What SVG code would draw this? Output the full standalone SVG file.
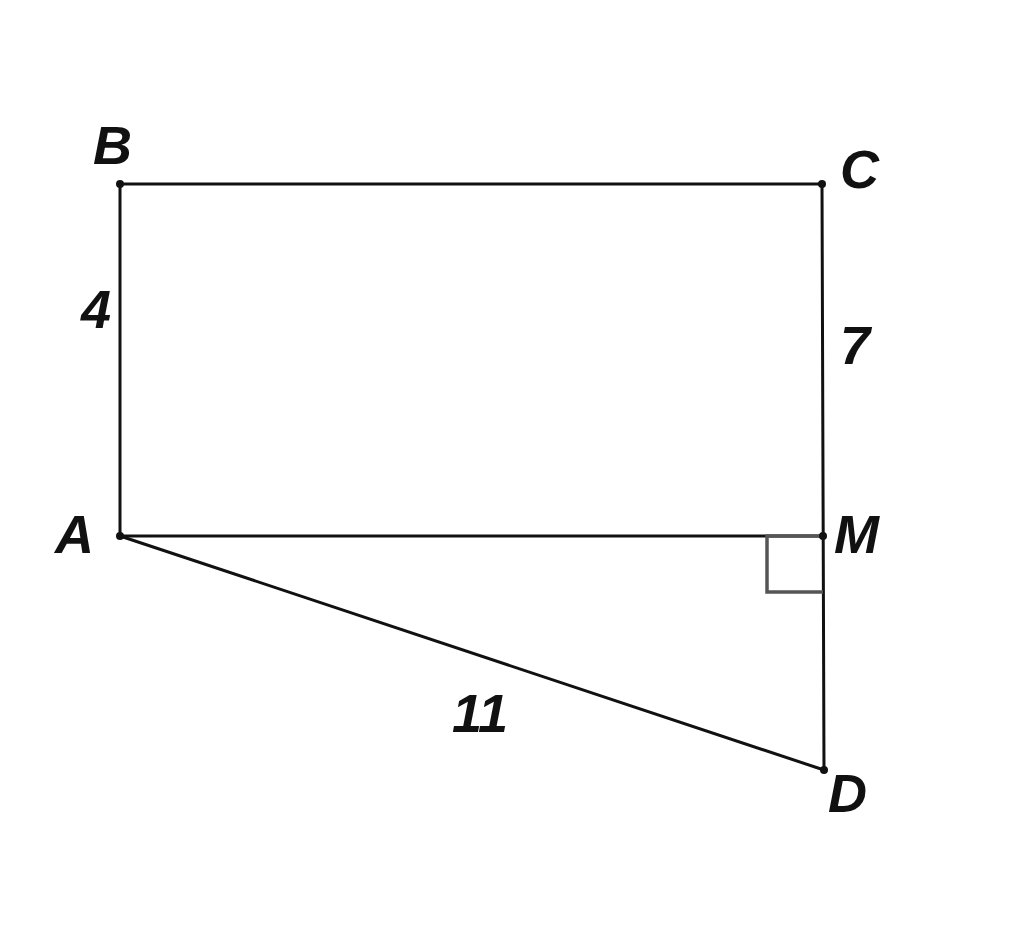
<svg xmlns="http://www.w3.org/2000/svg" width="1024" height="940" viewBox="0 0 1024 940">
<style>
.ln{stroke:#111;stroke-width:3;fill:none;stroke-linecap:round}
.ra{stroke:#555;stroke-width:3.5;fill:none}
.pt{fill:#111}
.lb{font-family:"Liberation Sans",Arial,sans-serif;font-weight:bold;font-style:italic;font-size:54px;fill:#111}
</style>
<rect width="1024" height="940" fill="#fff"/>
<g id="connectors">
<line class="ln" x1="120" y1="184" x2="822" y2="184"/>
<line class="ln" x1="120" y1="184" x2="120" y2="536"/>
<line class="ln" x1="822" y1="184" x2="824" y2="770"/>
<line class="ln" x1="120" y1="536" x2="823" y2="536"/>
<line class="ln" x1="120" y1="536" x2="824" y2="770"/>
<polyline class="ra" points="823,536 767,536 767,592 823,592"/>
</g>
<g id="B"><circle class="pt" cx="120" cy="184" r="4"/><text class="lb" x="93" y="164">B</text></g>
<g id="C"><circle class="pt" cx="822" cy="184" r="4"/><text class="lb" x="840" y="188">C</text></g>
<g id="A"><circle class="pt" cx="120" cy="536" r="4"/><text class="lb" x="55" y="553">A</text></g>
<g id="M"><circle class="pt" cx="823" cy="536" r="4"/><text class="lb" x="834" y="553">M</text></g>
<g id="D"><circle class="pt" cx="824" cy="770" r="4"/><text class="lb" x="828" y="812">D</text></g>
<g id="labels">
<text class="lb" x="81" y="328">4</text>
<text class="lb" x="840" y="364">7</text>
<text class="lb" x="452" y="732">11</text>
</g>
</svg>
